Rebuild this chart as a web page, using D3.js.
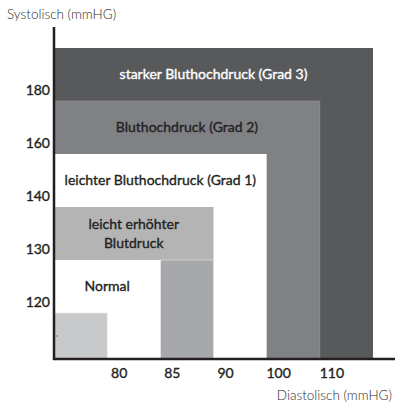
<!DOCTYPE html>
<html>
<head>
<meta charset="utf-8">
<script src="https://cdn.jsdelivr.net/npm/d3@7"></script>
<style>
  html, body { margin: 0; padding: 0; background: #fff; }
  svg { display: block; font-family: Lato, "Noto Sans", sans-serif; }
</style>
</head>
<body>
<svg id="chart" width="395" height="404"></svg>
<script>
// Blood pressure thresholds (mmHg)
const diastolicTicks = [80, 85, 90, 100, 110];
const systolicTicks = [120, 130, 140, 160, 180];

// Classes, outermost first; each reaches up to a threshold step on both axes
const classNames = [
  "starker Bluthochdruck (Grad 3)",
  "Bluthochdruck (Grad 2)",
  "leichter Bluthochdruck (Grad 1)",
  "leicht erhöhter Blutdruck",
  "Normal"
];
// step index reached on the diastolic / systolic axis (1 = first threshold)
const classDiaStep = [6, 5, 4, 3, 2];
const classSysStep = [6, 5, 4, 3, 2];

const W = 395, H = 404;
const plotLeft = 54, plotRight = 373, plotTop = 48, plotBottom = 359;

const svg = d3.select("#chart");

// Schematic step scales: each threshold occupies one equal step
const x = d3.scaleLinear().domain([0, 6]).range([plotLeft, plotRight]);
const y = d3.scaleLinear().domain([0, 1, 6]).range([plotBottom, 313, plotTop]);

const fills = ["#58595b", "#808184", "#ffffff", "#b4b4b5", "#ffffff"];
const textFill = ["#ffffff", "#231f20", "#231f20", "#231f20", "#231f20"];

const g = svg.append("g");

// nested class areas
classNames.forEach((name, i) => {
  const r = g.append("rect")
    .attr("x", x(0))
    .attr("y", y(classSysStep[i]))
    .attr("width", x(classDiaStep[i]) - x(0))
    .attr("height", y(0) - y(classSysStep[i]))
    .attr("fill", fills[i]);
  if (i === 1) r.attr("stroke", "#9a9a9c").attr("stroke-width", 0.6);
  if (i === 3) {
    // the elevated class: upper band plus the column along its diastolic step
    r.attr("height", y(classSysStep[i] - 1) - y(classSysStep[i]));
    g.append("rect")
      .attr("x", x(classDiaStep[i] - 1))
      .attr("y", y(classSysStep[i] - 1))
      .attr("width", x(classDiaStep[i]) - x(classDiaStep[i] - 1))
      .attr("height", y(0) - y(classSysStep[i] - 1))
      .attr("fill", "#a7a8ab")
      .attr("stroke", "#e6e6e6")
      .attr("stroke-width", 0.6);
  }
});
// the optimal corner below the first thresholds
g.append("rect")
  .attr("x", x(0))
  .attr("y", y(1))
  .attr("width", x(1) - x(0))
  .attr("height", y(0) - y(1))
  .attr("fill", "#c8c9ca")
  .attr("stroke", "#e6e6e6")
  .attr("stroke-width", 0.6);

// medium-weight look for labels
function medium(sel, color) {
  return sel.attr("fill", color)
    .attr("stroke", color)
    .attr("stroke-width", 0.35)
    .style("font-weight", 400);
}

// class labels centred in their upper band
classNames.forEach((name, i) => {
  const cx = (x(0) + x(classDiaStep[i])) / 2;
  const cy = (y(classSysStep[i]) + y(classSysStep[i] - 1)) / 2;
  const lines = i === 3 ? ["leicht erhöhter", "Blutdruck"] : [name];
  const t = g.append("text")
    .attr("x", cx)
    .attr("y", cy)
    .attr("text-anchor", "middle")
    .style("font-size", "14px");
  medium(t, textFill[i]);
  lines.forEach((l, k) => {
    t.append("tspan")
      .attr("x", cx)
      .attr("dy", k === 0 ? (lines.length === 1 ? "0.35em" : "-0.3em") : "1.3em")
      .text(l);
  });
});

// axes
const axisColor = "#231f20";
svg.append("line")
  .attr("x1", plotLeft).attr("x2", plotLeft)
  .attr("y1", 27).attr("y2", plotBottom + 1)
  .attr("stroke", axisColor).attr("stroke-width", 2.5);
svg.append("line")
  .attr("x1", plotLeft - 1).attr("x2", W)
  .attr("y1", plotBottom).attr("y2", plotBottom)
  .attr("stroke", axisColor).attr("stroke-width", 2.5);
svg.append("line")
  .attr("x1", plotLeft).attr("x2", plotLeft + 4)
  .attr("y1", y(0.5)).attr("y2", y(0.5))
  .attr("stroke", "#777").attr("stroke-width", 1);

// tick labels sit just past each threshold step
svg.selectAll(".xt").data(diastolicTicks).join("text")
  .attr("class", "xt")
  .attr("x", (d, i) => x(i + 1) + 12)
  .attr("y", plotBottom + 14)
  .attr("dy", "0.35em")
  .attr("text-anchor", "middle")
  .style("font-size", "14px")
  .call(medium, axisColor)
  .text(d => d);

svg.selectAll(".yt").data(systolicTicks).join("text")
  .attr("class", "yt")
  .attr("x", plotLeft - 4)
  .attr("y", (d, i) => y(i + 1) - 11)
  .attr("dy", "0.35em")
  .attr("text-anchor", "end")
  .style("font-size", "14px")
  .call(medium, axisColor)
  .text(d => d);

// axis titles
svg.append("text")
  .attr("x", 7).attr("y", 14).attr("dy", "0.35em")
  .attr("fill", "#2a2a2a")
  .style("font-size", "13.5px")
  .style("font-weight", 300)
  .text("Systolisch (mmHG)");
svg.append("text")
  .attr("x", 392).attr("y", 395).attr("dy", "0.35em")
  .attr("text-anchor", "end")
  .attr("fill", "#2a2a2a")
  .style("font-size", "13.5px")
  .style("font-weight", 300)
  .text("Diastolisch (mmHG)");
</script>
</body>
</html>
